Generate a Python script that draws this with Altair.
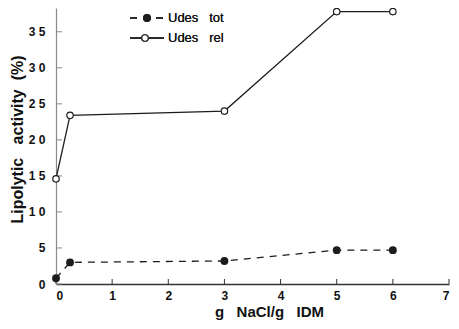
import altair as alt
import pandas as pd

# ---- data ----
NB = "\u00a0"
x_vals = [0, 0.25, 3, 5, 6]
tot_vals = [0.8, 3.0, 3.2, 4.7, 4.7]
rel_vals = [14.6, 23.4, 24.0, 37.8, 37.8]
series_names = ["Udes" + NB * 3 + "tot", "Udes" + NB * 3 + "rel"]
x_ticks = [0, 1, 2, 3, 4, 5, 6, 7]
y_ticks = [0, 5, 10, 15, 20, 25, 30, 35]
x_title = "g" + NB * 3 + "NaCl/g" + NB * 3 + "IDM"
y_title = "Lipolytic" + NB * 3 + "activity" + NB * 2 + "(%)"

W, H = 393, 276
INK = "#1c1c1c"
FONT = "Liberation Sans"

tot_df = pd.DataFrame({"x": x_vals, "y": tot_vals})
rel_df = pd.DataFrame({"x": x_vals, "y": rel_vals})
xt_df = pd.DataFrame({"x": x_ticks})
yt_df = pd.DataFrame({"y": y_ticks})

xs = alt.Scale(domain=[0, 7], nice=False, zero=False)
ys = alt.Scale(domain=[0, 38.3], nice=False, zero=False)

xax = alt.Axis(
    values=x_ticks, ticks=False, tickSize=0, grid=False,
    domainColor="#333", domainWidth=1.3,
    labelFont=FONT, labelFontWeight="bold", labelFontSize=12, labelColor="#111",
    labelPadding=6,
    title=x_title, titleFont=FONT, titleFontSize=15, titleFontWeight="bold",
    titleColor="#111", titleX=213, titleY=32, titleBaseline="alphabetic", titleAlign="center",
)
yax = alt.Axis(
    values=y_ticks, ticks=False, tickSize=0, grid=False,
    domainColor="#8a8a8a", domainWidth=1.2,
    labelFont=FONT, labelFontWeight="bold", labelFontSize=12, labelColor="#111",
    labelPadding=11,
    labelExpr="datum.value >= 10 ? floor(datum.value / 10) + '\u00a0' + (datum.value % 10) : datum.label",
    title=y_title, titleFont=FONT, titleFontSize=16, titleFontWeight="bold",
    titleColor="#111", titleX=-39, titleY=131, titleAngle=-90, titleBaseline="middle", titleAlign="center",
)

X = alt.X("x:Q", scale=xs, axis=xax)
Y = alt.Y("y:Q", scale=ys, axis=yax)

tot_line = alt.Chart(tot_df).mark_line(color=INK, strokeWidth=1.3, strokeDash=[7, 6]).encode(x=X, y=Y)
rel_line = alt.Chart(rel_df).mark_line(color=INK, strokeWidth=1.3).encode(x=X, y=Y)
tot_pts = alt.Chart(tot_df).mark_circle(color=INK, size=62, opacity=1).encode(x=X, y=Y)
rel_pts = alt.Chart(rel_df).mark_point(
    shape="circle", filled=True, fill="white", stroke=INK, strokeWidth=1.2, size=42, opacity=1
).encode(x=X, y=Y)

xticks_l = alt.Chart(xt_df).mark_rule(color="#333", strokeWidth=1).encode(
    x=X, y=alt.value(H), y2=alt.value(H - 5))
yticks_l = alt.Chart(yt_df).mark_rule(color="#8a8a8a", strokeWidth=1).encode(
    y=Y, x=alt.value(0), x2=alt.value(6))

leg_df = pd.DataFrame({"label": series_names})
leg1_line = alt.Chart(leg_df).mark_rule(color=INK, strokeWidth=1.3, strokeDash=[7, 6]).encode(
    x=alt.value(74), x2=alt.value(108), y=alt.value(10))
leg1_pt = alt.Chart(leg_df).mark_circle(color=INK, size=62, opacity=1).encode(
    x=alt.value(91), y=alt.value(10))
leg2_line = alt.Chart(leg_df).mark_rule(color=INK, strokeWidth=1.3).encode(
    x=alt.value(74), x2=alt.value(108), y=alt.value(30))
leg2_pt = alt.Chart(leg_df).mark_point(
    shape="circle", filled=True, fill="white", stroke=INK, strokeWidth=1.2, size=42, opacity=1
).encode(x=alt.value(89), y=alt.value(30))
leg1_txt = alt.Chart(leg_df).mark_text(
    text=series_names[0], align="left", baseline="middle", font=FONT, fontSize=13, color="#111"
).encode(x=alt.value(112), y=alt.value(10))
leg2_txt = alt.Chart(leg_df).mark_text(
    text=series_names[1], align="left", baseline="middle", font=FONT, fontSize=13, color="#111"
).encode(x=alt.value(112), y=alt.value(30))

chart = alt.layer(
    xticks_l, yticks_l, tot_line, rel_line, tot_pts, rel_pts,
    leg1_line, leg1_pt, leg2_line, leg2_pt, leg1_txt, leg2_txt,
).properties(
    width=W, height=H,
    autosize=alt.AutoSizeParams(type="none"),
    padding={"left": 48, "top": 0, "right": 2, "bottom": 37},
    background="white",
).configure_view(stroke=None)

chart.save("out.html", embed_options={"renderer": "svg", "actions": False})
